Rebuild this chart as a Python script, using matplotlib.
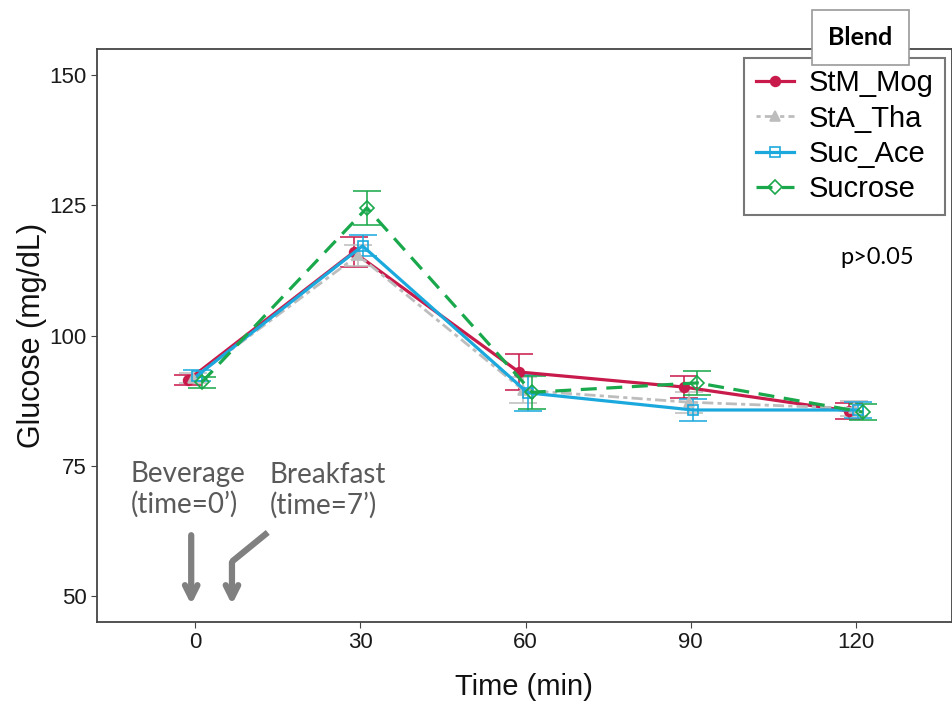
import matplotlib.pyplot as plt
import numpy as np

plt.rcParams['font.family'] = ['Liberation Sans', 'DejaVu Sans']

# time points (min)
times = np.array([0, 30, 60, 90, 120])

# mean glucose (mg/dL) and error bar half-widths
stm_mog = [91.5, 116.0, 93.0, 90.1, 85.5]
stm_mog_err = [1.0, 2.9, 3.4, 2.1, 1.5]
sta_tha = [91.8, 115.4, 89.5, 87.2, 86.0]
sta_tha_err = [1.0, 2.0, 2.5, 2.0, 1.5]
suc_ace = [92.3, 117.2, 89.0, 85.7, 85.7]
suc_ace_err = [1.0, 2.0, 3.4, 2.2, 1.5]
sucrose = [91.0, 124.5, 89.1, 90.9, 85.3]
sucrose_err = [1.0, 3.2, 3.2, 2.3, 1.5]

labels = ['StM_Mog', 'StA_Tha', 'Suc_Ace', 'Sucrose']
dodge = [-1.2, -0.4, 0.4, 1.2]

fig = plt.figure(figsize=(9.53, 7.05), dpi=100)
ax = fig.add_axes([0.1018, 0.1177, 0.897, 0.8128])

styles = [
    dict(color='#C81A4B', ls='-', marker='o', mfc='#C81A4B', ms=7, lw=2.3),
    dict(color='#BDBDBD', ls=(0, (1.5, 1.5, 4, 1.5)), marker='^', mfc='#BDBDBD', ms=7, lw=2.0),
    dict(color='#1BA9DD', ls='-', marker='s', mfc='none', ms=7, lw=2.3),
    dict(color='#19A84B', ls=(0, (5, 3)), marker='D', mfc='none', ms=7, lw=2.3),
]
series = [(stm_mog, stm_mog_err), (sta_tha, sta_tha_err),
          (suc_ace, suc_ace_err), (sucrose, sucrose_err)]

for (y, e), st, lab, d in zip(series, styles, labels, dodge):
    c = st['color']
    ax.errorbar(times + d, y, yerr=e, fmt='none', ecolor=c, elinewidth=1.4,
                capsize=10, capthick=1.4, alpha=0.8, zorder=2)
    ax.plot(times + d, y, color=c, ls=st['ls'], lw=st['lw'], marker=st['marker'],
            ms=st['ms'], mfc=st['mfc'], mec=c, mew=1.2, label=lab, zorder=3)

ax.set_xlim(-17.8, 137.4)
ax.set_ylim(45, 155)
ax.set_xticks(times)
ax.set_yticks([50, 75, 100, 125, 150])
ax.tick_params(labelsize=16, length=4, color='#444444', labelcolor='#1a1a1a')
for s in ax.spines.values():
    s.set_color('#444444')
    s.set_linewidth(1.3)

ax.set_xlabel('Time (min)', fontsize=21, color='#111111', labelpad=14)
ax.set_ylabel('Glucose (mg/dL)', fontsize=22, color='#111111', labelpad=2)

# annotations
gray = '#5a5a5a'
ax.text(-11.7, 70.5, "Beverage\n(time=0\u2019)", fontsize=20, color=gray,
        family='Lato', va='center', ha='left', linespacing=1.2)
ax.text(13.6, 70.3, "Breakfast\n(time=7\u2019)", fontsize=20, color=gray,
        family='Lato', va='center', ha='left', linespacing=1.2)
ax.annotate('', xy=(-0.7, 47.8), xytext=(-0.7, 62.2),
            arrowprops=dict(arrowstyle='->,head_width=0.45,head_length=0.9',
                            color='#808080', lw=4.5))
ax.plot([13.2, 6.7], [62.2, 56.6], color='#808080', lw=4.5, solid_capstyle='butt')
ax.annotate('', xy=(6.7, 47.8), xytext=(6.7, 57.0),
            arrowprops=dict(arrowstyle='->,head_width=0.45,head_length=0.9',
                            color='#808080', lw=4.5))

ax.text(123.8, 114.9, 'p>0.05', fontsize=17, color='black', family='Lato',
        ha='center', va='center')

leg = ax.legend(loc='upper right', bbox_to_anchor=(0.992, 0.985), fontsize=21,
                frameon=True, fancybox=False, handlelength=1.3, handletextpad=0.5,
                labelspacing=0.25, borderpad=0.4, borderaxespad=0)
leg.get_frame().set_edgecolor('#555555')
leg.get_frame().set_linewidth(1.5)

fig.text(0.903, 0.947, 'Blend', fontsize=18, fontweight='bold', family='Lato',
         ha='center', va='center',
         bbox=dict(boxstyle='square,pad=0.65', fc='white', ec='#999999', lw=1.2))

fig.savefig('out.png', dpi=100)
